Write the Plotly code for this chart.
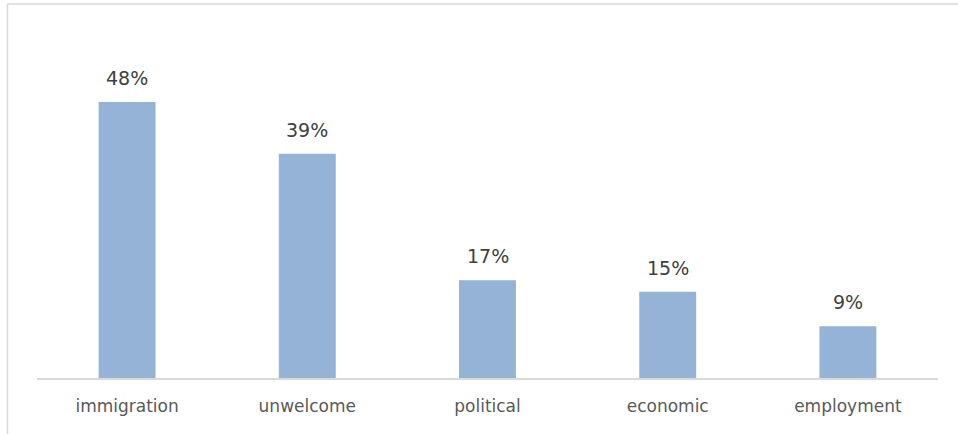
import plotly.graph_objects as go

categories = ["immigration", "unwelcome", "political", "economic", "employment"]
values = [0.48, 0.39, 0.17, 0.15, 0.09]
labels = ["48%", "39%", "17%", "15%", "9%"]

W, H = 958, 434
L, R, T, B = 37, 20, 33, 56
pw, ph = W - L - R, H - T - B

fig = go.Figure(go.Bar(x=categories, y=values, marker_color="#95B3D7",
                       marker_line_width=0, hoverinfo="skip"))

for c, v, t in zip(categories, values, labels):
    fig.add_annotation(x=c, y=v, text=t, showarrow=False, yanchor="bottom",
                       yshift=11, font=dict(family="DejaVu Sans", size=19, color="#404040"))

def px_x(p):
    return (p - L) / pw

def px_y(p):
    return (H - B - p) / ph

fig.add_shape(type="line", xref="paper", yref="paper", x0=px_x(7.5), x1=px_x(960),
              y0=px_y(4), y1=px_y(4), line=dict(color="#d9d9d9", width=1.5))
fig.add_shape(type="line", xref="paper", yref="paper", x0=px_x(7.5), x1=px_x(7.5),
              y0=px_y(4), y1=px_y(440), line=dict(color="#d9d9d9", width=1.5))

fig.update_layout(
    width=W, height=H, margin=dict(l=L, r=R, t=T, b=B),
    paper_bgcolor="white", plot_bgcolor="white",
    bargap=0.684, showlegend=False,
    font=dict(family="DejaVu Sans", size=17, color="#595959"),
    xaxis=dict(showline=True, linecolor="#d9d9d9", linewidth=2, ticks="",
               tickfont=dict(family="DejaVu Sans", size=17, color="#595959"),
               ticklabelstandoff=12, showgrid=False, zeroline=False),
    yaxis=dict(range=[0, 0.6], visible=False, showgrid=False, zeroline=False),
)

fig.write_html("out.html", config={"displayModeBar": False, "staticPlot": True},
               post_script="document.body.style.margin='0';document.body.style.overflow='hidden';")
